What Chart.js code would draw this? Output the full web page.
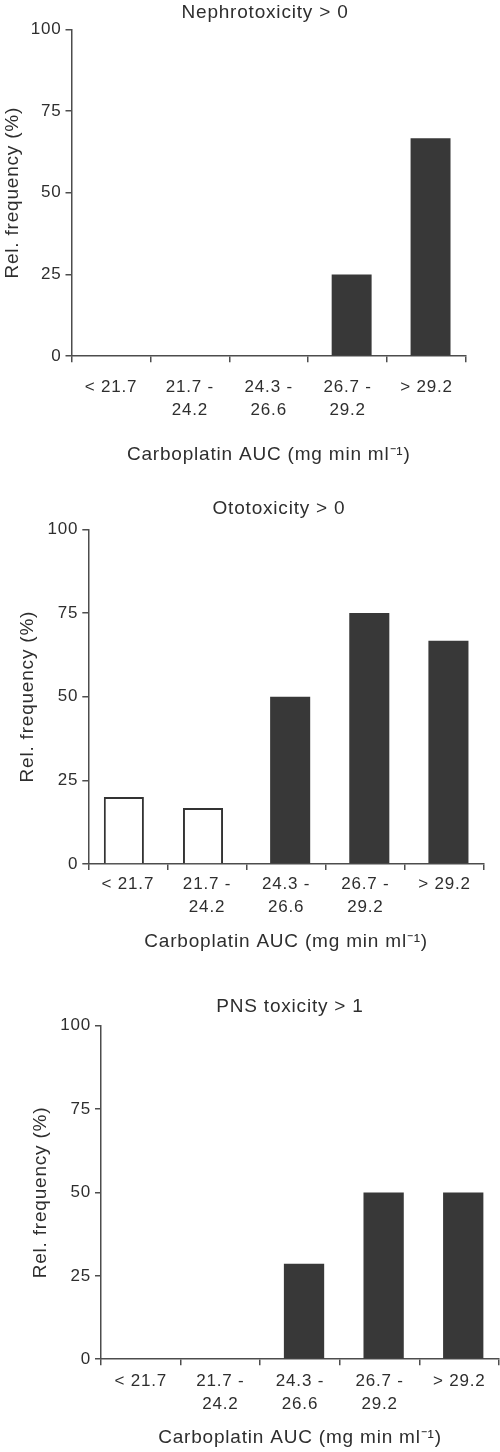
<!DOCTYPE html>
<html><head><meta charset="utf-8">
<script src="https://cdn.jsdelivr.net/npm/chart.js@4.4.1/dist/chart.umd.min.js"></script>
<style>
html,body{margin:0;padding:0;background:#fff;overflow:hidden;width:500px;height:1452px;position:relative;}
canvas{position:absolute;left:0;}
</style></head><body>
<canvas id="c1"></canvas><canvas id="c2"></canvas><canvas id="c3"></canvas>
<script>
// ---- data ----
const categories = ['< 21.7', ['21.7 -', '24.2'], ['24.3 -', '26.6'], ['26.7 -', '29.2'], '> 29.2'];
const yTicks = [0, 25, 50, 75, 100];
const nephroOpen   = [null, null, null, null, null];
const nephroFilled = [0, 0, 0, 25, 66.7];
const otoOpen      = [20, 16.7, null, null, null];
const otoFilled    = [null, null, 50, 75, 66.7];
const pnsOpen      = [null, null, null, null, null];
const pnsFilled    = [0, 0, 28.6, 50, 50];
const panelTitles  = ['Nephrotoxicity > 0', 'Ototoxicity > 0', 'PNS toxicity > 1'];
const xTitle = 'Carboplatin AUC (mg min ml\u207B\u00B9)';
const yTitle = 'Rel. frequency (%)';

// ---- styles / layout ----
const FF = "'Liberation Sans', Arial, Helvetica, sans-serif";
const TX = '#2e2e2e';
const AX = '#4d4d4d';
const BAR = '#383838';
const LS = '0.8px';
const layouts = [
  {top: 0,   w: 530, h: 466, left: 71.5, right: 466, tPadTop: 1.6,  tPadBot: 4.9, yTitlePad: 1.1,  xTickPad: 13.1, xTitlePad: 8.4},
  {top: 490, w: 558, h: 463, left: 88.3, right: 484, tPadTop: 6.9,  tPadBot: 9.6, yTitlePad: 16.1, xTickPad: 2.7,  xTitlePad: 8.4},
  {top: 980, w: 580, h: 469, left: 101,  right: 499, tPadTop: 15.3, tPadBot: 7.6, yTitlePad: 29.6, xTickPad: 4.1,  xTitlePad: 6.4},
];
const panels = [
  {open: nephroOpen, filled: nephroFilled},
  {open: otoOpen, filled: otoFilled},
  {open: pnsOpen, filled: pnsFilled},
];

const spacing = {
  id: 'spacing',
  beforeUpdate(c) { c.ctx.letterSpacing = LS; },
  beforeLayout(c) { c.ctx.letterSpacing = LS; },
  beforeDraw(c) { c.ctx.letterSpacing = LS; }
};

panels.forEach((p, i) => {
  const L = layouts[i];
  const cv = document.getElementById('c' + (i + 1));
  cv.width = L.w; cv.height = L.h;
  cv.style.width = L.w + 'px'; cv.style.height = L.h + 'px';
  cv.style.top = L.top + 'px';
  new Chart(cv, {
    type: 'bar',
    data: {
      labels: categories,
      datasets: [
        {data: p.open, backgroundColor: '#ffffff', borderColor: '#333333', borderWidth: 2},
        {data: p.filled, backgroundColor: BAR, borderWidth: 0}
      ]
    },
    plugins: [spacing],
    options: {
      responsive: false,
      animation: false,
      devicePixelRatio: 1,
      categoryPercentage: 0.2025,
      barPercentage: 5,
      layout: {padding: 0},
      plugins: {
        legend: {display: false},
        tooltip: {enabled: false},
        title: {
          display: true, text: panelTitles[i], color: TX,
          font: {family: FF, size: 19, weight: 'normal', lineHeight: 1.2},
          padding: {top: L.tPadTop, bottom: L.tPadBot}
        }
      },
      scales: {
        x: {
          offset: true,
          grid: {display: true, offset: true, drawOnChartArea: false, drawTicks: true, tickLength: 6, color: AX, lineWidth: 1.5},
          border: {display: true, color: AX, width: 1.5},
          ticks: {color: TX, font: {family: FF, size: 17, lineHeight: 1.365}, padding: L.xTickPad, maxRotation: 0, autoSkip: false},
          title: {display: true, text: xTitle, color: TX, font: {family: FF, size: 19, lineHeight: 1.2}, padding: {top: L.xTitlePad, bottom: 0}}
        },
        y: {
          min: 0, max: 100,
          afterBuildTicks: s => { s.ticks = yTicks.map(v => ({value: v})); },
          afterFit: s => { s.width = L.left; },
          grid: {display: true, drawOnChartArea: false, drawTicks: true, tickLength: 6, color: AX, lineWidth: 1.5},
          border: {display: true, color: AX, width: 1.5},
          ticks: {color: TX, font: {family: FF, size: 17, lineHeight: 1.2}, padding: 4},
          title: {display: true, text: yTitle, color: TX, font: {family: FF, size: 19, lineHeight: 1.2}, padding: {top: L.yTitlePad, bottom: 0}}
        },
        pad: {
          type: 'linear', position: 'right', display: true,
          grid: {display: false}, border: {display: false}, ticks: {display: false},
          afterFit: s => { s.width = L.w - L.right; }
        }
      }
    }
  });
});
</script>
</body></html>
